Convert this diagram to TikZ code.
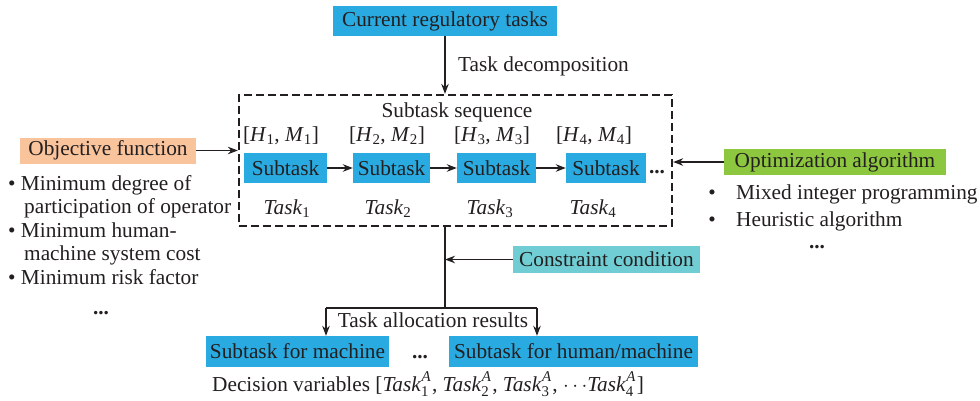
\documentclass[tikz,border=0pt]{standalone}
\usepackage{fontspec}
\setmainfont{Liberation Serif}
\usetikzlibrary{arrows.meta,positioning,calc}
\definecolor{boxblue}{HTML}{29ABE2}
\definecolor{boxorange}{HTML}{F9C39C}
\definecolor{boxgreen}{HTML}{8DC63F}
\definecolor{boxteal}{HTML}{70CDD3}
\definecolor{ink}{HTML}{231F20}
\newcommand{\sbs}[1]{\textsubscript{#1}}
\newcommand{\tka}[1]{\textit{Task}\rlap{\raisebox{2pt}{\textsuperscript{\kern0.5pt\textit{A}}}}\raisebox{-2pt}{\textsubscript{#1}}\kern3pt}
\begin{document}
\begin{tikzpicture}[x=1pt,y=-1pt,
  font=\fontsize{21.3}{24}\selectfont, text=ink,
  fbox/.style={fill=#1, inner sep=0pt, minimum height=28},
  arr/.style={draw=ink, line width=1.3pt, -{Stealth[length=10pt,width=7.5pt]}},
  ln/.style={draw=ink, line width=1.3pt},
  lbl/.style={inner sep=0pt, anchor=base},
  dotsst/.style={inner sep=0pt, anchor=base, text height=3pt, text depth=0pt, font=\fontsize{21.3}{24}\selectfont\bfseries}]
\useasboundingbox (0,0) rectangle (980,400);
% top
\node[fbox=boxblue, minimum width=224, minimum height=30] (cur) at (445,21) {Current regulatory tasks};
% dashed sequence box
\node[draw=ink, dash pattern=on 8pt off 4pt, line width=2.3pt, minimum width=433, minimum height=131, inner sep=0pt] (seq) at (455.5,160.5) {};
\node[lbl] (sstitle) at (457,117) {Subtask sequence};
\node[fbox=boxblue, minimum width=83, minimum height=30] (s1) at (285.5,168) {Subtask};
\node[fbox=boxblue, minimum width=77, minimum height=30] (s2) at (391.5,168) {Subtask};
\node[fbox=boxblue, minimum width=79, minimum height=30] (s3) at (496.5,168) {Subtask};
\node[fbox=boxblue, minimum width=80, minimum height=30] (s4) at (606,168) {Subtask};
\node[dotsst] (sdots) at (657,173) {...};
\node[lbl] (h1) at (281,141) {[\textit{H}\sbs{1}, \textit{M}\sbs{1}]};
\node[lbl] (h2) at (387,141) {[\textit{H}\sbs{2}, \textit{M}\sbs{2}]};
\node[lbl] (h3) at (492,141) {[\textit{H}\sbs{3}, \textit{M}\sbs{3}]};
\node[lbl] (h4) at (594,141) {[\textit{H}\sbs{4}, \textit{M}\sbs{4}]};
\node[lbl] (t1) at (287,214) {\textit{Task}\sbs{1}};
\node[lbl] (t2) at (388,214) {\textit{Task}\sbs{2}};
\node[lbl] (t3) at (490,214) {\textit{Task}\sbs{3}};
\node[lbl] (t4) at (593,214) {\textit{Task}\sbs{4}};
\draw[arr] (s1) -- (s2);
\draw[arr] (s2) -- (s3);
\draw[arr] (s3) -- (s4);
% top arrow
\draw[arr] (cur.south) -- (cur.south |- seq.north);
\node[lbl, anchor=base west] (decomp) at (458,71) {Task decomposition};
% objective
\node[fbox=boxorange, minimum width=176, minimum height=26] (obj) at (108,150.5) {Objective function};
\draw[arr] (obj.east) -- (obj.east -| seq.west);
\node[lbl, anchor=base west] (ob1) at (8,190) {\textbullet\ Minimum degree of};
\node[lbl, anchor=base west] (ob2) at (24,213) {participation of operator};
\node[lbl, anchor=base west] (ob3) at (8,237) {\textbullet\ Minimum human-};
\node[lbl, anchor=base west] (ob4) at (24,260) {machine system cost};
\node[lbl, anchor=base west] (ob5) at (8,284) {\textbullet\ Minimum risk factor};
\node[dotsst] (obd) at (101,314) {...};
% optimization
\node[fbox=boxgreen, minimum width=222, minimum height=26] (opt) at (835,162) {Optimization algorithm};
\draw[arr] (opt.west) -- (opt.west -| seq.east);
\node[lbl] (op1b) at (712,199) {\textbullet};
\node[lbl, anchor=base west] (op1) at (736,199) {Mixed integer programming};
\node[lbl] (op2b) at (712,226) {\textbullet};
\node[lbl, anchor=base west] (op2) at (736,226) {Heuristic algorithm};
\node[dotsst] (opd) at (817,248) {...};
% lower part
\coordinate (j) at (445,308);
\draw[ln] (cur.south |- seq.south) -- (j);
\node[fbox=boxteal, minimum width=187, minimum height=27] (con) at (606.5,259.5) {Constraint condition};
\draw[arr] (con.west) -- (con.west -| j);
\node[fbox=boxblue, minimum width=183, minimum height=31] (mach) at (297.5,351.5) {Subtask for machine};
\node[fbox=boxblue, minimum width=249, minimum height=31] (hm) at (573.5,351.5) {Subtask for human/machine};
\coordinate (lt) at (326,308);
\coordinate (rt) at (537,308);
\draw[ln] (lt) -- (rt);
\draw[arr] (lt) -- (lt |- mach.north);
\draw[arr] (rt) -- (rt |- hm.north);
\node[lbl] (alloc) at (433,327) {Task allocation results};
\node[dotsst] (mdots) at (420,358) {...};
\node[lbl, anchor=base west] (dec) at (212,391) {Decision variables [\tka{1}, \tka{2}, \tka{3}, $\cdots$\tka{4}]};
\end{tikzpicture}
\end{document}
